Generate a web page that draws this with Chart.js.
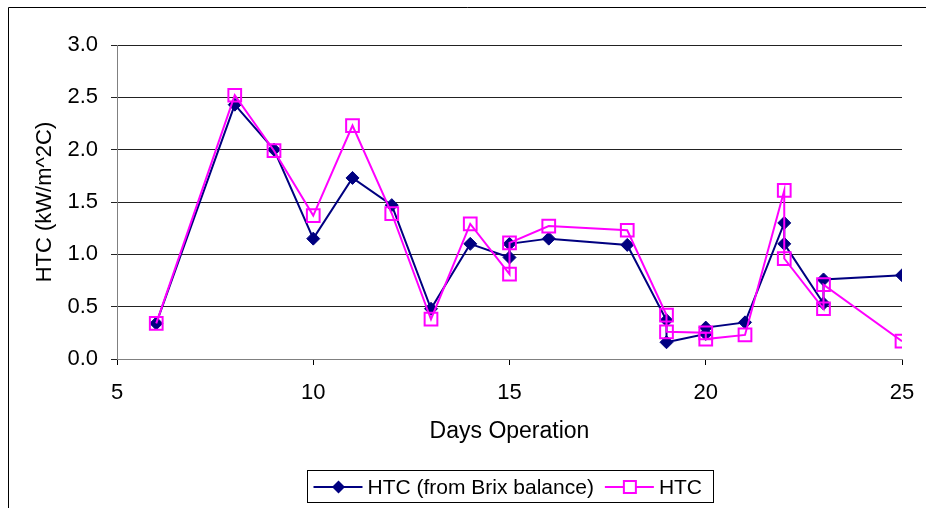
<!DOCTYPE html>
<html>
<head>
<meta charset="utf-8">
<script src="https://cdn.jsdelivr.net/npm/chart.js@4/dist/chart.umd.min.js"></script>
<style>
html,body{margin:0;padding:0;background:#fff;}
#wrap{width:926px;height:508px;position:relative;}
</style>
</head>
<body>
<div id="wrap"><canvas id="c" width="926" height="508"></canvas></div>
<script>
// ---- data ----
const brixDays = [6, 8, 9, 10, 11, 12, 13, 14, 15, 15, 16, 18, 19, 19, 20, 20, 21, 22, 22, 23, 23, 25];
const brixHTC  = [0.34, 2.43, 2.00, 1.15, 1.73, 1.47, 0.48, 1.10, 0.97, 1.10, 1.15, 1.09, 0.37, 0.16, 0.24, 0.30, 0.35, 1.30, 1.10, 0.53, 0.76, 0.80];
const htcDays  = [6, 8, 9, 10, 11, 12, 13, 14, 15, 15, 16, 18, 19, 19, 20, 20, 21, 22, 22, 23, 23, 25];
const htcVals  = [0.34, 2.52, 1.99, 1.37, 2.23, 1.39, 0.38, 1.29, 0.81, 1.11, 1.27, 1.23, 0.42, 0.26, 0.25, 0.19, 0.23, 1.61, 0.96, 0.48, 0.71, 0.17];
const seriesNames = ["HTC (from Brix balance)", "HTC"];
const xTitle = "Days Operation";
const yTitle = "HTC (kW/m^2C)";
const xTicks = [5, 10, 15, 20, 25];
const yTicks = [0.0, 0.5, 1.0, 1.5, 2.0, 2.5, 3.0];

const NAVY = "#000080", MAG = "#FF00FF";
const FONT = "'Liberation Sans', Arial, sans-serif";
const toPts = (xs, ys) => xs.map((x, i) => ({x: x, y: ys[i]}));

const decor = {
  id: 'decor',
  afterDraw(chart) {
    const ctx = chart.ctx, a = chart.chartArea;
    ctx.save();
    // outer frame
    ctx.strokeStyle = '#000'; ctx.lineWidth = 1;
    ctx.beginPath();
    ctx.moveTo(8.5, 520); ctx.lineTo(8.5, 7.5); ctx.lineTo(940, 7.5);
    ctx.stroke();
    // axis titles
    ctx.fillStyle = '#000';
    ctx.textAlign = 'center'; ctx.textBaseline = 'middle';
    ctx.font = "23px " + FONT;
    ctx.fillText(xTitle, (a.left + a.right) / 2, 432);
    ctx.save();
    ctx.font = "22px " + FONT;
    ctx.translate(45, (a.top + a.bottom) / 2);
    ctx.rotate(-Math.PI / 2);
    ctx.fillText(yTitle, 0, 0);
    ctx.restore();
    // legend
    const bx = 307.5, by = 470.5, bh = 32;
    const ly = 487;
    ctx.font = "21px " + FONT;
    ctx.textAlign = 'left';
    let x = bx + 6;
    const items = [
      {name: seriesNames[0], color: NAVY, style: 'diamond'},
      {name: seriesNames[1], color: MAG, style: 'square'}
    ];
    items.forEach((it) => {
      ctx.strokeStyle = it.color; ctx.lineWidth = 2;
      ctx.beginPath(); ctx.moveTo(x, ly); ctx.lineTo(x + 49, ly); ctx.stroke();
      const cx = x + 25;
      if (it.style === 'diamond') {
        ctx.fillStyle = it.color;
        ctx.beginPath();
        ctx.moveTo(cx, ly - 6.5); ctx.lineTo(cx + 6.5, ly); ctx.lineTo(cx, ly + 6.5); ctx.lineTo(cx - 6.5, ly);
        ctx.closePath(); ctx.fill();
      } else {
        ctx.fillStyle = '#fff';
        ctx.fillRect(cx - 6, ly - 6, 12, 12);
        ctx.strokeRect(cx - 6, ly - 6, 12, 12);
      }
      ctx.fillStyle = '#000';
      ctx.fillText(it.name, x + 54, ly + 1);
      x += 54 + ctx.measureText(it.name).width + 11;
    });
    const bw = Math.round(x - bx);
    ctx.strokeStyle = '#000'; ctx.lineWidth = 1;
    ctx.strokeRect(bx, by, bw, bh);
    ctx.restore();
  }
};

new Chart(document.getElementById('c'), {
  type: 'scatter',
  data: {
    datasets: [
      {
        label: seriesNames[1],
        data: toPts(htcDays, htcVals),
        showLine: true,
        borderColor: MAG,
        backgroundColor: 'rgba(0,0,0,0)',
        borderWidth: 2,
        pointStyle: 'rect',
        pointRadius: 9,
        pointBorderWidth: 2,
        pointBorderColor: MAG,
        pointBackgroundColor: 'rgba(0,0,0,0)',
        order: 0
      },
      {
        label: seriesNames[0],
        data: toPts(brixDays, brixHTC),
        showLine: true,
        borderColor: NAVY,
        backgroundColor: NAVY,
        borderWidth: 2,
        pointStyle: 'rectRot',
        pointRadius: 6.5,
        pointBorderWidth: 1,
        pointBorderColor: NAVY,
        pointBackgroundColor: NAVY,
        order: 1
      }
    ]
  },
  options: {
    responsive: false,
    animation: false,
    devicePixelRatio: 1,
    layout: {padding: {left: 0, top: 45, right: 24, bottom: 0}},
    plugins: {legend: {display: false}, tooltip: {enabled: false}},
    scales: {
      x: {
        type: 'linear', min: 5, max: 25,
        afterBuildTicks: s => { s.ticks = xTicks.map(v => ({value: v})); },
        afterFit: s => { s.height = 149; s.paddingLeft = 0; s.paddingRight = 0; },
        grid: {drawOnChartArea: false, drawTicks: true, tickLength: 6, color: '#000'},
        border: {color: '#808080', width: 1},
        ticks: {color: '#000', font: {family: FONT, size: 22}, padding: 15, maxRotation: 0}
      },
      y: {
        type: 'linear', min: 0, max: 3,
        afterBuildTicks: s => { s.ticks = yTicks.map(v => ({value: v})); },
        afterFit: s => { s.width = 117; s.paddingTop = 0; s.paddingBottom = 0; },
        grid: {color: '#222', lineWidth: 1, drawTicks: true, tickLength: 6},
        border: {color: '#808080', width: 1},
        ticks: {color: '#000', font: {family: FONT, size: 22}, padding: 13, callback: v => Number(v).toFixed(1)}
      }
    }
  },
  plugins: [decor]
});
</script>
</body>
</html>
